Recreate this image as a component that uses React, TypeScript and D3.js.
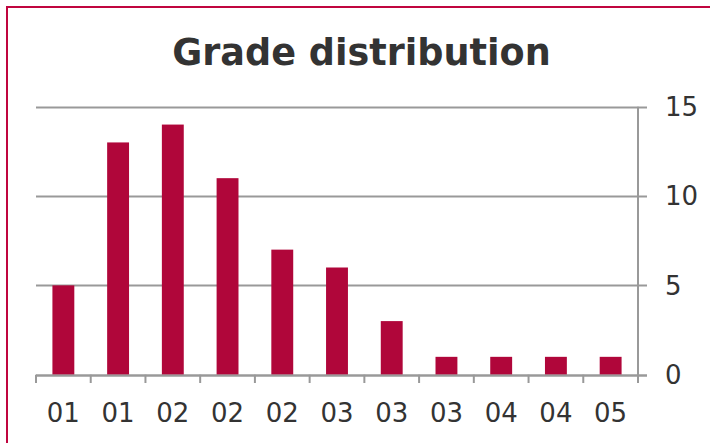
import React from "react";
import * as d3 from "d3";

const categories = ["01", "01", "02", "02", "02", "03", "03", "03", "04", "04", "05"];
const counts = [5, 13, 14, 11, 7, 6, 3, 1, 1, 1, 1];
const yTicks = [0, 5, 10, 15];
const title = "Grade distribution";

export default function App() {
  const W = 710, H = 443;
  const left = 36, right = 638, top = 106.7, bottom = 374.7;
  const x = d3.scaleBand<number>().domain(d3.range(categories.length)).range([left, right]).paddingInner(0).paddingOuter(0);
  const y = d3.scaleLinear().domain([0, 15]).range([bottom, top]);
  const bw = x.bandwidth() * 0.4;
  const grid = "#999999";
  const red = "#B0063A";
  const text = "#333333";
  const font = "DejaVu Sans, Verdana, sans-serif";
  return (
    <svg width={W} height={H} style={{ position: "absolute", left: 0, top: 0, background: "#fff" }}>
      <rect x={7} y={7} width={W + 20} height={H + 20} fill="#fff" stroke="#C0053F" strokeWidth={2} />
      <text x={361.5} y={65} textAnchor="middle" fontFamily={font} fontWeight="bold" fontSize={36.6} fill={text}>{title}</text>
      {yTicks.map((t) => (
        <g key={t}>
          <line x1={left} x2={647} y1={Math.round(y(t)) + 0.5} y2={Math.round(y(t)) + 0.5} stroke={grid} strokeWidth={2} />
          <text x={665} y={y(t)} dy="0.36em" fontFamily={font} fontSize={26} fill={text}>{t}</text>
        </g>
      ))}
      {counts.map((v, i) => (
        <rect key={i} x={(x(i) as number) + (x.bandwidth() - bw) / 2} y={y(v)} width={bw} height={y(0) - y(v)} fill={red} />
      ))}
      <line x1={right} x2={right} y1={top} y2={383} stroke={grid} strokeWidth={2} />
      {d3.range(categories.length).map((i) => (
        <line key={i} x1={x(i) as number} x2={x(i) as number} y1={bottom} y2={383} stroke={grid} strokeWidth={2} />
      ))}
      <line x1={left} x2={647} y1={Math.round(y(0)) + 0.5} y2={Math.round(y(0)) + 0.5} stroke={grid} strokeWidth={2} />
      {categories.map((c, i) => (
        <text key={i} x={(x(i) as number) + x.bandwidth() / 2} y={421.5} textAnchor="middle" fontFamily={font} fontSize={26} fill={text}>{c}</text>
      ))}
    </svg>
  );
}
